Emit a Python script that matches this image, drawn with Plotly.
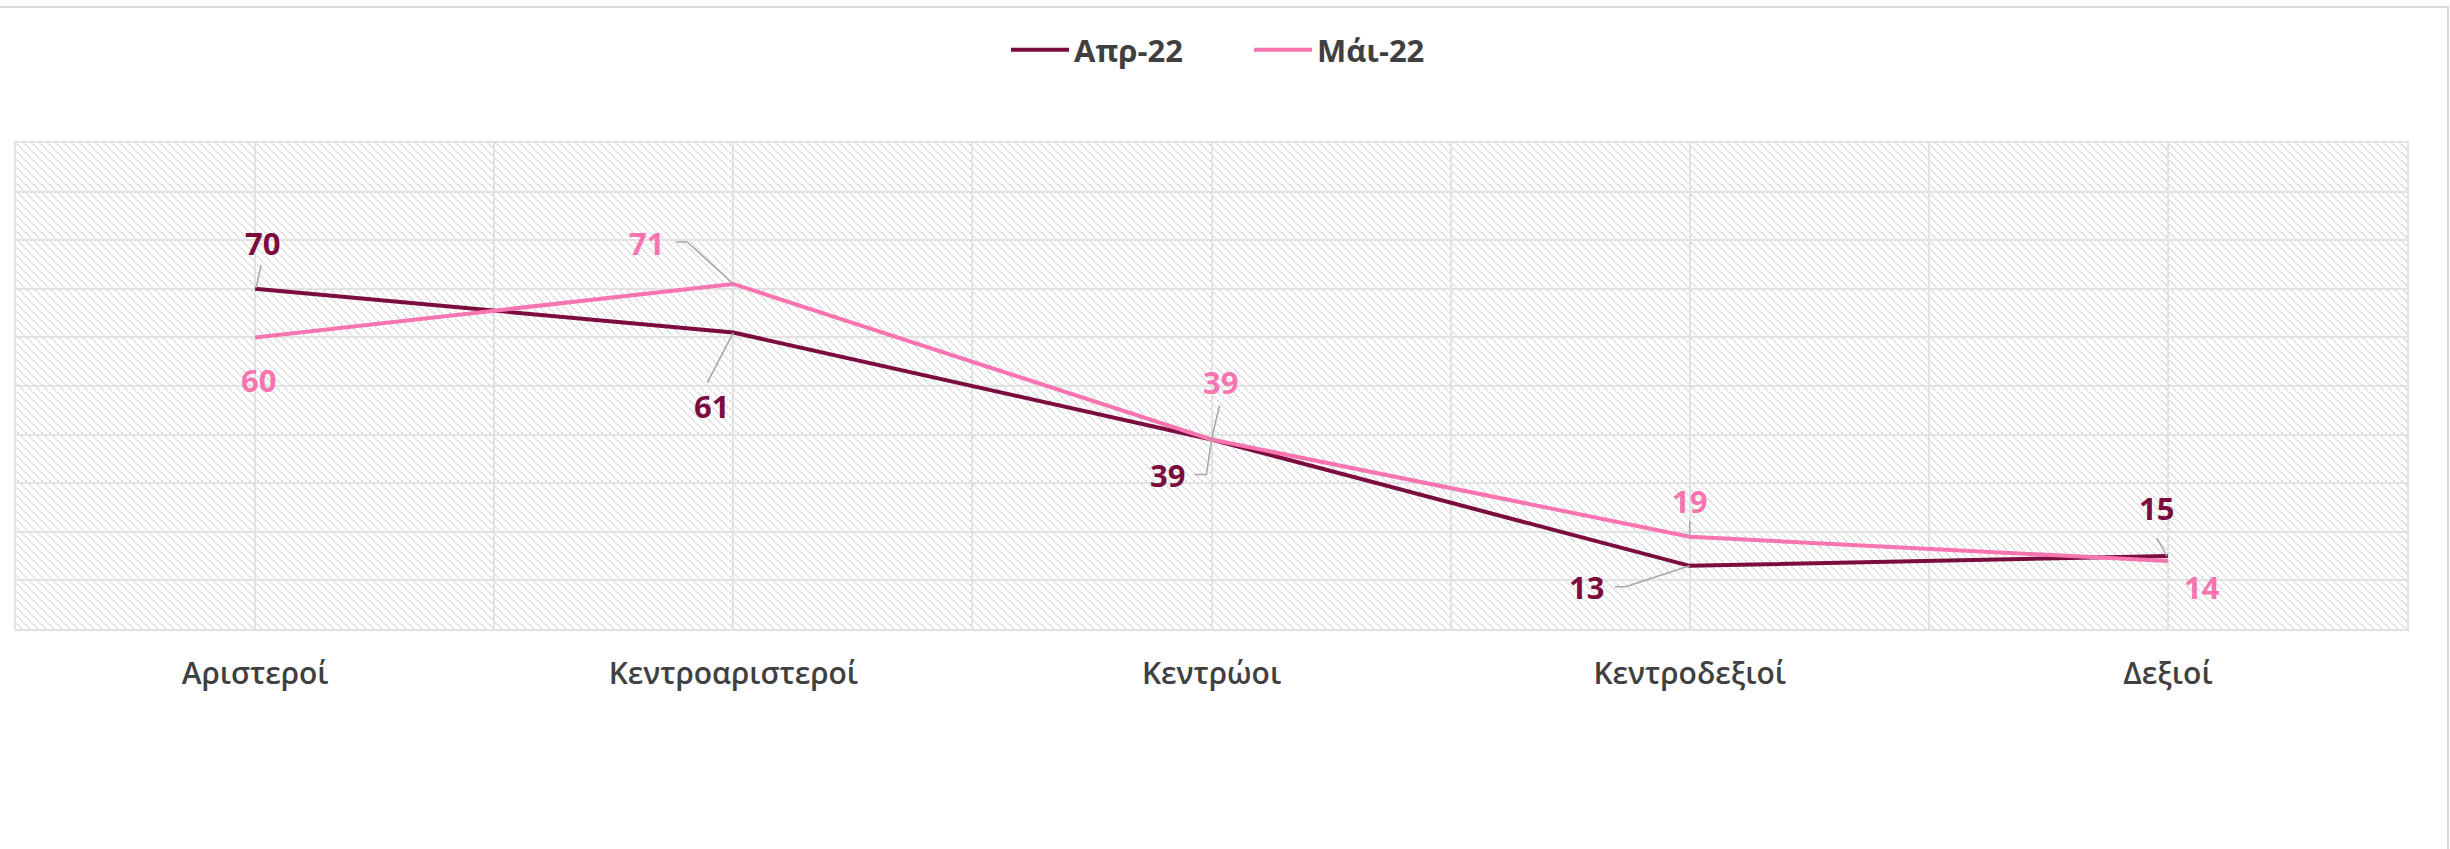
import base64
import plotly.graph_objects as go

# Ideological self-placement, share (%) by survey month
categories = ["Αριστεροί", "Κεντροαριστεροί", "Κεντρώοι", "Κεντροδεξιοί", "Δεξιοί"]
series_names = ["Απρ-22", "Μάι-22"]
apr_22 = [70, 61, 39, 13, 15]
may_22 = [60, 71, 39, 19, 14]

COL_APR = "#7A0C3E"
COL_MAY = "#F774B0"
TEXT_GREY = "#404040"
GRID = "#e2e2e2"
LEADER = "#a6a6a6"
FONT = "Open Sans"

W, H = 2450, 849
M_L, M_R, M_T, M_B = 16, 43, 143, 220
PW, PH = W - M_L - M_R, H - M_T - M_B

x_idx = list(range(len(categories)))

# diagonal hatch used as plot-area background
hatch_svg = (
    f"<svg xmlns='http://www.w3.org/2000/svg' width='{PW}' height='{PH}' "
    f"viewBox='0 0 {PW} {PH}' preserveAspectRatio='none'>"
    "<defs><pattern id='h' width='8' height='8' patternUnits='userSpaceOnUse'>"
    "<path d='M-1,-1 L9,9 M7,-1 L9,1 M-1,7 L1,9' stroke='#cfcfcf' "
    "stroke-width='1.5' stroke-dasharray='2 1'/></pattern></defs>"
    "<rect width='100%' height='100%' fill='url(#h)'/></svg>"
)
hatch_uri = "data:image/svg+xml;base64," + base64.b64encode(hatch_svg.encode()).decode()

fig = go.Figure()
fig.add_trace(go.Scatter(x=x_idx, y=apr_22, name=series_names[0], mode="lines",
                         line=dict(color=COL_APR, width=4)))
fig.add_trace(go.Scatter(x=x_idx, y=may_22, name=series_names[1], mode="lines",
                         line=dict(color=COL_MAY, width=4)))

# label placement per point: (series values, colour, category index, dx, dy, leader path or None)
label_specs = [
    (apr_22, COL_APR, 0, 7, 46, "M1,1 L6,24"),
    (may_22, COL_MAY, 0, 3, -43, None),
    (may_22, COL_MAY, 1, -87, 41, "M0,0 L-46,42 L-57,42"),
    (apr_22, COL_APR, 1, -22, -73, "M0,0 L-26,-50"),
    (may_22, COL_MAY, 2, 9, 57, "M0,0 L8,34"),
    (apr_22, COL_APR, 2, -44, -36, "M0,0 L-5,-35 L-17,-35"),
    (may_22, COL_MAY, 3, 0, 36, "M0,0 L0,16"),
    (apr_22, COL_APR, 3, -103, -21, "M0,0 L-64,-21 L-75,-21"),
    (apr_22, COL_APR, 4, -11, 48, "M-1,0 L-11,18"),
    (may_22, COL_MAY, 4, 34, -26, None),
]

annotations = []
shapes = []
for vals, col, i, dx, dy, path in label_specs:
    v = vals[i]
    annotations.append(dict(
        x=i, y=v, xref="x", yref="y", text=f"<b>{v}</b>", showarrow=False,
        xshift=dx, yshift=dy, xanchor="center", yanchor="middle",
        font=dict(family=FONT, size=31, color=col),
    ))
    if path:
        shapes.append(dict(
            type="path", xref="x", yref="y", xsizemode="pixel", ysizemode="pixel",
            xanchor=i, yanchor=v, path=path, line=dict(color=LEADER, width=1.5),
        ))

# outer chart frame (top and right edges visible)
shapes.append(dict(
    type="rect", xref="paper", yref="paper", layer="below",
    x0=-0.02, x1=(W - 2 - M_L) / PW, y0=-0.6, y1=(H - M_B - 7) / PH,
    line=dict(color="#d9d9d9", width=2), fillcolor="rgba(0,0,0,0)",
))

fig.update_layout(
    width=W, height=H,
    margin=dict(l=M_L, r=M_R, t=M_T, b=M_B, pad=0),
    paper_bgcolor="white", plot_bgcolor="white",
    font=dict(family=FONT, color=TEXT_GREY),
    showlegend=True,
    legend=dict(orientation="h", x=(1006 - M_L) / PW, xanchor="left", y=1 + (M_T - 50) / PH,
                yanchor="middle", font=dict(family=FONT, size=31, color=TEXT_GREY, weight=700),
                itemwidth=58, entrywidth=170, bgcolor="rgba(0,0,0,0)"),
    images=[dict(source=hatch_uri, xref="x", yref="y", x=-0.5, y=100,
                 sizex=5, sizey=100, xanchor="left", yanchor="top",
                 sizing="stretch", layer="below")],
    annotations=annotations,
    shapes=shapes,
    hovermode=False,
)

fig.update_xaxes(
    range=[-0.5, 4.5], tickmode="array", tickvals=x_idx, ticktext=categories,
    showgrid=True, gridcolor=GRID, gridwidth=2,
    minor=dict(dtick=0.5, tick0=0, showgrid=True, gridcolor=GRID, gridwidth=2),
    showline=True, mirror=True, linecolor=GRID, linewidth=2,
    zeroline=False, ticks="", ticklabelstandoff=17,
    tickfont=dict(family=FONT, size=30, color=TEXT_GREY, weight=600),
    fixedrange=True,
)
fig.update_yaxes(
    range=[0, 100], dtick=10, showticklabels=False,
    showgrid=True, gridcolor=GRID, gridwidth=2,
    showline=True, mirror=True, linecolor=GRID, linewidth=2,
    zeroline=False, ticks="", fixedrange=True,
)

fig.write_html("out.html", config=dict(displayModeBar=False))
